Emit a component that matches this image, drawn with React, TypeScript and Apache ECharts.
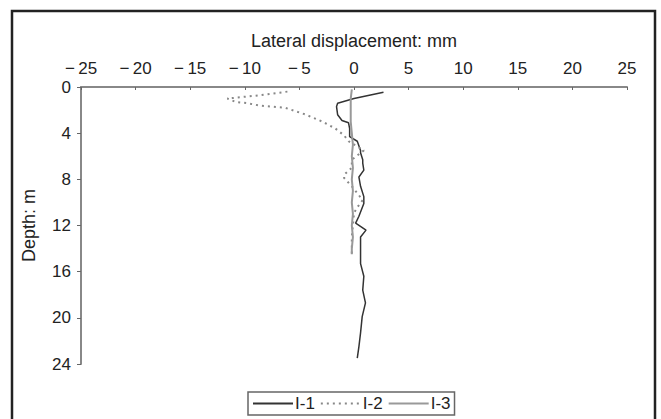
import React, { useEffect, useRef } from "react";
import * as echarts from "echarts";

const xTicks = [-25, -20, -15, -10, -5, 0, 5, 10, 15, 20, 25];
const depthTicks = [0, 4, 8, 12, 16, 20, 24];
const seriesNames = ["I-1", "I-2", "I-3"];

const i1Disp = [2.7, 0, -1.5, -1.6, -1.5, -1.1, -0.5, -0.4, -0.4, 0.3, 0.6, 0.6, 0.8, 0.8, 0.9, 0.45, 0.6, 0.9, 0.9, 0.45, 0.15, 1.1, 0.6, 0.6, 0.6, 0.9, 0.8, 1.05, 0.75, 0.6, 0.45, 0.3];
const i1Depth = [0.45, 1.0, 1.4, 1.7, 2.4, 2.9, 3.1, 3.6, 4.3, 4.7, 5.5, 5.7, 6.3, 6.6, 7.2, 7.8, 8.6, 9.5, 10.1, 11.2, 11.8, 12.4, 13.0, 13.8, 15.3, 16.4, 17.6, 18.7, 19.9, 21.3, 22.5, 23.5];

const i2Disp = [-6.1, -8.5, -11.6, -10.8, -9.8, -8.7, -6.3, -4.4, -2.9, -1.7, -0.9, -0.5, 0.9, -0.2, -0.2, -0.9, -0.9, -0.2, 0.8, 0.4, 0, -0.1, -0.2, -0.2];
const i2Depth = [0.4, 0.7, 1.0, 1.3, 1.4, 1.6, 1.8, 2.4, 3.0, 3.6, 4.2, 4.7, 5.5, 6.3, 7.0, 7.6, 7.9, 8.6, 9.8, 10.3, 10.9, 12, 13, 14.5];

const i3Disp = [-0.2, -0.3, -0.3, -0.3, -0.2, -0.1, -0.2, -0.1, -0.2, -0.1, -0.2, -0.1, -0.2, -0.1, -0.2, -0.2];
const i3Depth = [0.2, 1, 2, 3, 4, 5, 6, 7, 8, 9, 10, 11, 12, 13, 14, 14.5];

const zip = (xs: number[], ys: number[]) => xs.map((x, i) => [x, ys[i]]);

const fmt = (v: number) => (v < 0 ? "\u2212\u2009" + Math.abs(v) : String(v));

export default function App() {
  const ref = useRef<HTMLDivElement>(null);
  useEffect(() => {
    document.body.style.margin = "0";
    const chart = echarts.init(ref.current!, null, { renderer: "svg" });
    const font = "Liberation Sans, Arial, sans-serif";
    chart.setOption({
      animation: false,
      backgroundColor: "#fff",
      textStyle: { fontFamily: font },
      grid: { left: 81, right: 34, top: 87, bottom: 55 },
      graphic: [
        {
          type: "rect",
          shape: { x: 12, y: 11, width: 643, height: 430 },
          style: { fill: "none", stroke: "#222", lineWidth: 2.5 },
          silent: true,
        },
      ],
      xAxis: {
        type: "value",
        position: "top",
        min: -25,
        max: 25,
        interval: 5,
        name: "Lateral displacement: mm",
        nameLocation: "middle",
        nameGap: 37,
        nameTextStyle: { fontSize: 18, color: "#222", fontFamily: font },
        axisLine: { show: true, onZero: false, lineStyle: { color: "#888", width: 2 } },
        axisTick: { show: true, inside: true, length: 3, lineStyle: { color: "#666" } },
        axisLabel: {
          fontSize: 17,
          color: "#222",
          margin: 10,
          fontFamily: font,
          formatter: (v: number) => (xTicks.includes(v) ? fmt(v) : ""),
        },
        splitLine: { show: false },
      },
      yAxis: {
        type: "value",
        inverse: true,
        min: 0,
        max: 24,
        interval: 4,
        name: "Depth: m",
        nameLocation: "middle",
        nameGap: 43,
        nameTextStyle: { fontSize: 18, color: "#222", fontFamily: font },
        axisLine: { show: true, onZero: false, lineStyle: { color: "#888", width: 2 } },
        axisTick: { show: true, length: 4, lineStyle: { color: "#666" } },
        axisLabel: {
          fontSize: 17,
          color: "#222",
          margin: 10,
          fontFamily: font,
          formatter: (v: number) => (depthTicks.includes(v) ? String(v) : ""),
        },
        splitLine: { show: false },
      },
      legend: {
        bottom: 4,
        left: 248,
        data: seriesNames,
        itemWidth: 40,
        itemHeight: 10,
        itemGap: 5,
        padding: [3, 4, 3, 4],
        borderColor: "#666",
        borderWidth: 1.5,
        itemStyle: { opacity: 0 },
        textStyle: { fontSize: 17, color: "#222", fontFamily: font, padding: [0, 0, 0, -3] },
      },
      series: [
        {
          name: seriesNames[0],
          type: "line",
          symbol: "none",
          data: zip(i1Disp, i1Depth),
          lineStyle: { color: "#333", width: 1.5 },
          itemStyle: { color: "#333" },
        },
        {
          name: seriesNames[1],
          type: "line",
          symbol: "none",
          data: zip(i2Disp, i2Depth),
          lineStyle: { color: "#888", width: 2, type: [2, 4] },
          itemStyle: { color: "#888" },
        },
        {
          name: seriesNames[2],
          type: "line",
          symbol: "none",
          data: zip(i3Disp, i3Depth),
          lineStyle: { color: "#999", width: 2 },
          itemStyle: { color: "#999" },
        },
      ],
    });
    return () => chart.dispose();
  }, []);
  return <div ref={ref} style={{ width: 661, height: 419 }} />;
}
